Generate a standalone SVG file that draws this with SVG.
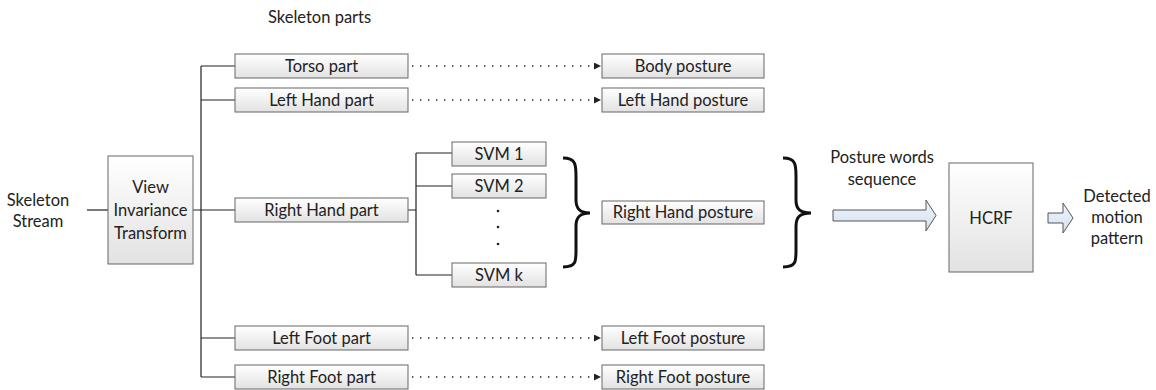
<svg xmlns="http://www.w3.org/2000/svg" width="1156" height="390" viewBox="0 0 1156 390">
<defs>
<linearGradient id="g" x1="0" y1="0" x2="0" y2="1"><stop offset="0" stop-color="#ffffff"/><stop offset="1" stop-color="#e2e2e2"/></linearGradient>
<linearGradient id="ga" x1="0" y1="0" x2="0" y2="1"><stop offset="0" stop-color="#eef3fa"/><stop offset="1" stop-color="#d5e2f2"/></linearGradient>
<marker id="ah" markerWidth="7" markerHeight="7" refX="6" refY="3.5" orient="auto" markerUnits="userSpaceOnUse"><path d="M0,0 L7,3.5 L0,7 Z" fill="#222"/></marker>
<style>
.box{fill:url(#g);stroke:#666;stroke-width:1}
.t{font-family:Lato,"Open Sans","Liberation Sans",sans-serif;font-size:16.5px;fill:#222;text-anchor:middle}
.ln{stroke:#222;stroke-width:1.2;fill:none}
.dot{stroke:#222;stroke-width:1.4;fill:none;stroke-dasharray:1.4 6.6}
.br{stroke:#111;stroke-width:3;fill:none}
.fat{fill:url(#ga);stroke:#555;stroke-width:1}
</style>
</defs>
<text class="t" x="268" y="23" style="text-anchor:start">Skeleton parts</text>
<g id="connectors">
<path class="ln" d="M87,210 H108"/>
<path class="ln" d="M193,210 H235"/>
<path class="ln" d="M201,66 V377"/>
<path class="ln" d="M201,66 H235 M201,100 H235 M201,338 H235 M201,377 H235"/>
<path class="ln" d="M408,210 H416 M416,153 V275 M416,153 H452 M416,186 H452 M416,275 H452"/>
<path class="dot" d="M412,66 H600" marker-end="url(#ah)"/>
<path class="dot" d="M412,100 H600" marker-end="url(#ah)"/>
<path class="dot" d="M412,338 H600" marker-end="url(#ah)"/>
<path class="dot" d="M412,377 H600" marker-end="url(#ah)"/>
<path class="br" d="M563,158 C577,158 576,166 576,180 L576,200 C576,209 580,213 590,213 C580,213 576,217 576,226 L576,247 C576,261 577,267 563,267"/>
<path class="br" d="M783,158 C797,158 796,166 796,180 L796,200 C796,209 800,213 811,213 C800,213 796,217 796,226 L796,247 C796,261 797,267 783,267"/>
<path class="fat" d="M833,210 H926 V200 L936,215.5 L926,231 V221 H833 Z"/>
<path class="fat" d="M1048,213 H1063 V203 L1073,218 L1063,233 V223 H1048 Z"/>
</g>
<g id="skeleton-stream"><text class="t" x="38" y="206">Skeleton</text><text class="t" x="38" y="227">Stream</text></g>
<g id="view-invariance"><rect class="box" x="108" y="156" width="85" height="108"/><text class="t" x="150.5" y="193">View</text><text class="t" x="150.5" y="216">Invariance</text><text class="t" x="150.5" y="239">Transform</text></g>
<g id="torso-part"><rect class="box" x="235" y="54" width="173" height="24"/><text class="t" x="321.5" y="72">Torso part</text></g>
<g id="left-hand-part"><rect class="box" x="235" y="88" width="173" height="24"/><text class="t" x="321.5" y="106">Left Hand part</text></g>
<g id="right-hand-part"><rect class="box" x="235" y="198" width="173" height="24"/><text class="t" x="321.5" y="216">Right Hand part</text></g>
<g id="left-foot-part"><rect class="box" x="235" y="326" width="173" height="24"/><text class="t" x="321.5" y="344">Left Foot part</text></g>
<g id="right-foot-part"><rect class="box" x="235" y="365" width="173" height="24"/><text class="t" x="321.5" y="383">Right Foot part</text></g>
<g id="svm1"><rect class="box" x="452" y="142" width="94" height="24"/><text class="t" x="499" y="160">SVM 1</text></g>
<g id="svm2"><rect class="box" x="452" y="174" width="94" height="24"/><text class="t" x="499" y="192">SVM 2</text></g>
<g id="svm-dots" fill="#222"><circle cx="498" cy="211" r="1.3"/><circle cx="498" cy="227" r="1.3"/><circle cx="498" cy="244" r="1.3"/></g>
<g id="svmk"><rect class="box" x="452" y="263" width="94" height="24"/><text class="t" x="499" y="281">SVM k</text></g>
<g id="body-posture"><rect class="box" x="602" y="54" width="162" height="24"/><text class="t" x="683" y="72">Body posture</text></g>
<g id="left-hand-posture"><rect class="box" x="602" y="88" width="162" height="24"/><text class="t" x="683" y="106">Left Hand posture</text></g>
<g id="right-hand-posture"><rect class="box" x="602" y="201" width="162" height="23"/><text class="t" x="683" y="218">Right Hand posture</text></g>
<g id="left-foot-posture"><rect class="box" x="602" y="326" width="162" height="24"/><text class="t" x="683" y="344">Left Foot posture</text></g>
<g id="right-foot-posture"><rect class="box" x="602" y="365" width="162" height="24"/><text class="t" x="683" y="383">Right Foot posture</text></g>
<g id="posture-words"><text class="t" x="882" y="163">Posture words</text><text class="t" x="882" y="185">sequence</text></g>
<g id="hcrf"><rect class="box" x="949" y="163" width="84" height="109"/><text class="t" x="991" y="224">HCRF</text></g>
<g id="detected"><text class="t" x="1117" y="202">Detected</text><text class="t" x="1117" y="223">motion</text><text class="t" x="1117" y="244">pattern</text></g>
</svg>
